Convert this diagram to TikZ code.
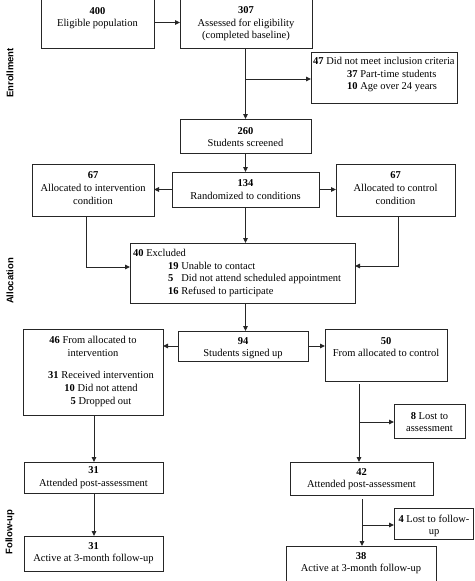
\documentclass[tikz,border=0pt]{standalone}
\usepackage{fontspec}
\setmainfont{Liberation Serif}
\newfontfamily\sidefont{Liberation Sans}
\usetikzlibrary{arrows.meta}
\begin{document}
\begin{tikzpicture}[x=1pt,y=-1pt,
  box/.style={draw=black!85, line width=1pt, inner sep=0pt, outer sep=0pt},
  txt/.style={align=center, inner sep=0pt, yshift=-1.5pt, font=\fontsize{10.5}{12.6}\selectfont},
  ltxt/.style={align=left, anchor=west, inner sep=0pt, yshift=-1.5pt, font=\fontsize{10.5}{12.6}\selectfont},
  side/.style={rotate=90, inner sep=0pt, font=\sidefont\bfseries\fontsize{9.5}{11}\selectfont},
  conn/.style={draw=black!85, line width=1pt},
  arr/.style={conn, -{Triangle[length=5pt,width=4.5pt]}}]
\useasboundingbox (0,0) rectangle (474,581);
% boxes
\node[box, minimum width=113pt, minimum height=51pt] (pop) at (97.5,22.5) {};
\node[box, minimum width=132pt, minimum height=51pt] (elig) at (246,22.5) {};
\node[box, minimum width=146pt, minimum height=51pt] (excl47) at (384,77.5) {};
\node[box, minimum width=131pt, minimum height=34pt] (screened) at (245.5,136) {};
\node[box, minimum width=147pt, minimum height=35pt] (rand) at (245.5,189.5) {};
\node[box, minimum width=122pt, minimum height=52pt] (allocI) at (93,190) {};
\node[box, minimum width=119pt, minimum height=52pt] (allocC) at (395.5,190) {};
\node[box, minimum width=225pt, minimum height=60pt] (excl40) at (242.5,273) {};
\node[box, minimum width=130pt, minimum height=30pt] (signed) at (243,346) {};
\node[box, minimum width=140pt, minimum height=86pt] (fromI) at (93,372) {};
\node[box, minimum width=122pt, minimum height=52pt] (fromC) at (386,355) {};
\node[box, minimum width=71pt, minimum height=34pt] (lost8) at (429.5,421) {};
\node[box, minimum width=139pt, minimum height=31pt] (postI) at (93.5,477.5) {};
\node[box, minimum width=143pt, minimum height=33pt] (postC) at (361.5,478.5) {};
\node[box, minimum width=79pt, minimum height=31pt] (lost4) at (433.5,523.5) {};
\node[box, minimum width=139pt, minimum height=35pt] (actI) at (93.5,553.5) {};
\node[box, minimum width=150pt, minimum height=44pt] (actC) at (361,568) {};
% texts
\node[txt] (tpop) at (97.5,16.5) {\textbf{400}\\Eligible population};
\node[txt] (telig) at (246,22.5) {\textbf{307}\\Assessed for eligibility\\(completed baseline)};
\node[ltxt] (texcl47) at (313,73) {\textbf{47} Did not meet inclusion criteria\\\hspace*{34pt}\textbf{37} Part-time students\\\hspace*{34pt}\textbf{10} Age over 24 years};
\node[txt] (tscreened) at (245.5,135.5) {\textbf{260}\\Students screened};
\node[txt] (trand) at (245.5,188) {\textbf{134}\\Randomized to conditions};
\node[txt] (tallocI) at (93,186.5) {\textbf{67}\\Allocated to intervention\\condition};
\node[txt] (tallocC) at (395.5,186.5) {\textbf{67}\\Allocated to control\\condition};
\node[ltxt] (texcl40) at (133,271.5) {\textbf{40} Excluded\\\hspace*{35pt}\textbf{19} Unable to contact\\\hspace*{35pt}\rlap{\textbf{5}}\hphantom{\textbf{19}} Did not attend scheduled appointment\\\hspace*{35pt}\textbf{16} Refused to participate};
\node[txt] (tsigned) at (243,346.5) {\textbf{94}\\Students signed up};
\node[txt] (tfromIa) at (93,345) {\textbf{46} From allocated to\\intervention};
\node[txt] (tfromIb) at (101,387.5) {\textbf{31} Received intervention\\\textbf{10} Did not attend\\\textbf{5} Dropped out};
\node[txt] (tfromC) at (386,345.5) {\textbf{50}\\From allocated to control};
\node[txt] (tlost8) at (429.5,420.5) {\textbf{8} Lost to\\assessment};
\node[txt] (tpostI) at (93.5,476) {\textbf{31}\\Attended post-assessment};
\node[txt] (tactI) at (93.5,551.5) {\textbf{31}\\Active at 3-month follow-up};
\node[txt] (tpostC) at (361.5,477.5) {\textbf{42}\\Attended post-assessment};
\node[txt] (tlost4) at (434,524.5) {\textbf{4} Lost to follow-\\up};
\node[txt] (tactC) at (361,561.5) {\textbf{38}\\Active at 3-month follow-up};
% side labels
\node[side] (enr) at (10,73) {Enrollment};
\node[side] (all) at (10,281) {Allocation};
\node[side] (fol) at (10,532) {Follow-up};
% connectors
\draw[arr] (pop) -- (elig);
\coordinate (c1) at (245.5,79);
\draw[arr] (elig.south -| c1) -- (screened.north -| c1);
\draw[arr] (c1) -- (c1 -| excl47.west);
\draw[arr] (screened) -- (rand);
\draw[arr] (rand.west) -- (rand.west -| allocI.east);
\draw[arr] (rand.east) -- (rand.east -| allocC.west);
\coordinate (c2) at (86,267);
\draw[arr] (allocI.south -| c2) -- (c2) -- (excl40.west |- c2);
\coordinate (c3) at (398,266);
\draw[arr] (allocC.south -| c3) -- (c3) -- (excl40.east |- c3);
\draw[arr] (rand.south) -- (excl40.north -| rand.south);
\draw[arr] (excl40.south -| rand.south) -- (signed.north -| rand.south);
\draw[arr] (signed.west) -- (signed.west -| fromI.east);
\draw[arr] (signed.east) -- (signed.east -| fromC.west);
\coordinate (c6) at (94,440);
\draw[arr] (fromI.south -| c6) -- (postI.north -| c6);
\coordinate (c4) at (359,422);
\draw[arr] ([yshift=-3pt]fromC.south -| c4) -- (postC.north -| c4);
\draw[arr] (c4) -- (lost8.west |- c4);
\draw[arr] (postI.south -| c6) -- (actI.north -| c6);
\coordinate (c5) at (362,525);
\draw[arr] ([yshift=-4pt]postC.south -| c5) -- (actC.north -| c5);
\draw[arr] (c5) -- (lost4.west |- c5);
\end{tikzpicture}
\end{document}
